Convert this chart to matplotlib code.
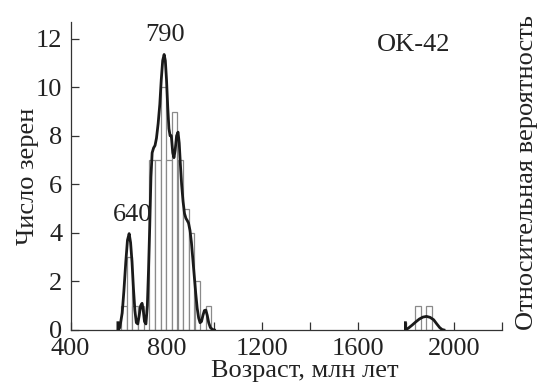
import matplotlib
matplotlib.use("Agg")
import matplotlib.pyplot as plt

plt.rcParams['font.family'] = ['Liberation Serif', 'DejaVu Serif']

# histogram: bin left edges (Ma) and grain counts
bin_left = [610, 634, 657, 681, 728, 752, 775, 799, 822, 846, 870, 893, 917, 964, 1837, 1884]
counts = [1, 3, 1, 1, 7, 7, 10, 7, 9, 7, 5, 4, 2, 1, 1, 1]
bin_width = 23.6

# relative probability curve (scaled to count units)
main_age = [597, 597, 605, 615, 622, 630, 637, 644, 650, 656, 662, 668, 674, 680, 686, 692,
            698, 703, 708, 714, 720, 725, 730, 735, 740, 746, 752, 758, 765, 772, 778, 784,
            790, 795, 800, 805, 810, 815, 820, 826, 831, 836, 842, 848, 853, 858, 863, 869,
            875, 881, 887, 892, 898, 904, 910, 916, 922, 928, 934, 940, 946, 952, 958, 964,
            970, 976, 983, 992, 1000]
main_prob = [0.3, 0.0, 0.1, 0.7, 1.6, 2.8, 3.7, 3.97, 3.6, 2.8, 1.7, 0.8, 0.3, 0.25, 0.6, 1.0,
             1.1, 0.8, 0.35, 0.25, 1.0, 2.5, 4.3, 6.3, 7.3, 7.5, 7.6, 7.9, 8.5, 9.3, 10.3, 11.1,
             11.35, 11.1, 10.3, 9.2, 8.3, 8.0, 8.0, 7.3, 7.1, 7.4, 8.0, 8.15, 7.7, 6.8, 6.0, 5.3,
             4.8, 4.6, 4.5, 4.4, 4.1, 3.6, 2.9, 2.2, 1.5, 0.9, 0.5, 0.3, 0.35, 0.6, 0.8, 0.82,
             0.6, 0.3, 0.1, 0.02, 0.0]
far_age = [1797, 1797, 1810, 1825, 1840, 1855, 1870, 1885, 1900, 1915, 1928, 1940, 1950, 1958]
far_prob = [0.3, 0.0, 0.08, 0.2, 0.33, 0.45, 0.53, 0.56, 0.52, 0.42, 0.25, 0.1, 0.02, 0.0]

peak_labels = ["640", "790"]
peak_pos = [(660, 4.75), (792, 12.15)]
sample = "OK-42"

fs = 19

fig = plt.figure(figsize=(5.45, 3.85), dpi=100)
ax = fig.add_axes([0.1297, 0.1429, 0.7913, 0.8007])

ax.bar(bin_left, counts, width=bin_width, align='edge', facecolor='white',
       edgecolor='#8a8a8a', linewidth=0.9, zorder=2)
ax.plot(main_age, main_prob, color='#1a1a1a', lw=2.0, zorder=3, solid_joinstyle='round')
ax.plot(far_age, far_prob, color='#1a1a1a', lw=2.0, zorder=3, solid_joinstyle='round')

for lab, (x, y) in zip(peak_labels, peak_pos):
    ax.text(x, y, lab, ha='center', va='center', fontsize=fs, color='#222222')
ax.text(1831, 11.75, sample, ha='center', va='center', fontsize=fs, color='#222222')

ax.set_xlim(400, 2200)
ax.set_ylim(0, 12.7)
ax.set_xticks([400, 800, 1200, 1600, 2000])
ax.set_xticks(range(400, 2201, 200), minor=True)
ax.set_yticks(range(0, 13, 2))
ax.tick_params(direction='in', length=6, width=0.9, colors='#333333',
               labelsize=fs, labelcolor='#222222')
ax.tick_params(which='minor', direction='in', length=6, width=0.9, colors='#333333')
ax.tick_params(axis='x', pad=6)
ax.tick_params(axis='y', pad=6)

for side in ['top', 'right']:
    ax.spines[side].set_visible(False)
for side in ['left', 'bottom']:
    ax.spines[side].set_color('#333333')
    ax.spines[side].set_linewidth(0.9)

ax.set_xlabel("Возраст, млн лет", fontsize=fs, color='#222222', labelpad=0, x=0.543)
ax.set_ylabel("Число зерен", fontsize=fs, color='#222222', labelpad=-2)
ax.text(1.058, 0.51, "Относительная вероятность", transform=ax.transAxes, rotation=90,
        ha='center', va='center', fontsize=fs, color='#222222')

fig.savefig("out.png", dpi=100)
